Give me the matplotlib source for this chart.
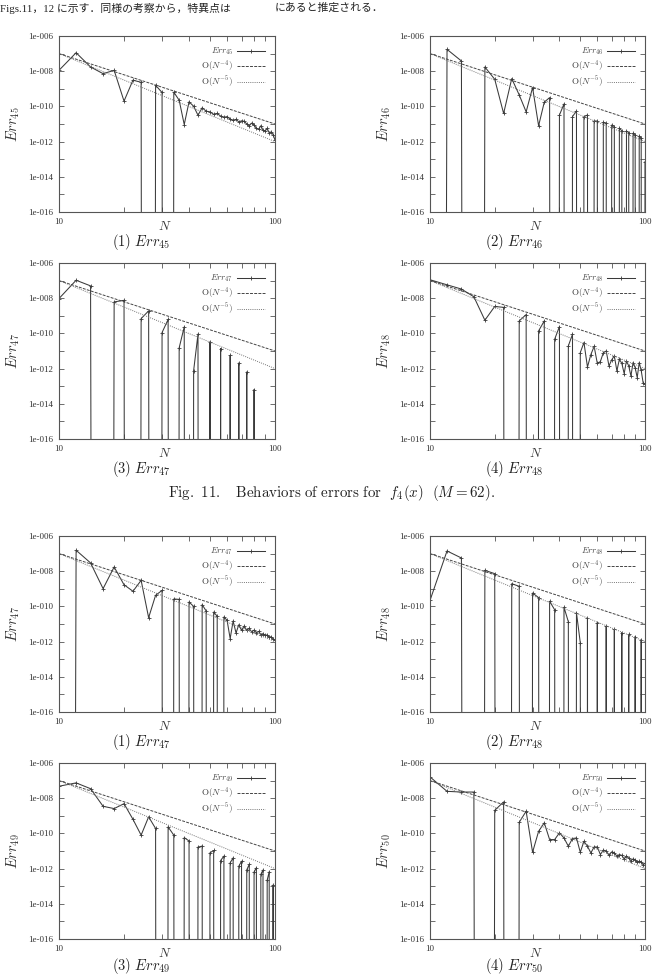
import matplotlib
matplotlib.use('Agg')
import matplotlib.pyplot as plt
from matplotlib.lines import Line2D

plt.rcParams['mathtext.fontset'] = 'cm'

# ---------------- data (exponents of the error) ----------
N = list(range(10, 101, 2))
Z = None  # exact zero (drawn as a drop to the bottom of the log axis)
ZERO_FLOOR = 1e-300

f11_err45 = [-7.95, -6.95, -7.76, -8.14, -7.95, -9.70, -8.51, -8.63, Z, -8.80,
             -9.21, Z, -9.19, -9.65, -11.03, -9.74, -9.99, -10.50, -10.08, -10.27,
             -10.31, -10.45, -10.40, -10.55, -10.62, -10.58, -10.72, -10.80, -10.74, -10.88,
             -10.82, -10.85, -11.00, -11.10, -10.95, -11.05, -11.25, -11.30, -11.10, -11.35,
             -11.40, -11.25, -11.50, -11.45, -11.60, -11.92]
f11_err46 = [Z, -6.76, -7.42, Z, -7.76, -8.46, -10.40, -8.42, -9.35, -10.31,
             -8.93, -11.10, -9.76, -9.50, Z, -10.49, -9.86, Z, -10.58, -10.26,
             Z, -10.58, -10.49, Z, -10.83, -10.83, Z, -10.90, -10.96, Z,
             -11.06, -11.15, Z, -11.24, -11.38, Z, -11.40, -11.49, Z, -11.53,
             -11.61, Z, -11.68, -11.81, Z, -13.14]
f11_err47 = [-8.02, -6.98, -7.30, Z, -8.21, -8.12, Z, -9.16, -8.72, Z,
             -9.95, -9.21, Z, -10.82, -9.63, Z, -12.12, -10.04, Z, Z,
             -10.48, Z, Z, -10.86, Z, Z, -11.25, Z, Z, -11.68,
             Z, Z, -12.19, Z, Z, -13.19, Z, Z, Z, Z,
             Z, Z, Z, Z, Z, Z]
f11_err48 = [-6.95, -7.24, -7.48, -7.92, -9.25, -8.47, -8.52, Z, -9.29, -8.93,
             Z, -9.86, -9.29, Z, -10.33, -9.61, Z, -10.71, -10.05, Z,
             -11.09, -10.52, -11.91, -11.20, -10.74, -11.70, -11.60, -11.10, -11.00, -11.85,
             -11.50, -11.28, -12.13, -11.47, -11.70, -12.28, -11.56, -11.85, -12.42, -11.66,
             -11.95, -12.51, -11.66, -12.10, -12.80, -12.89]

f12_err47 = [Z, -6.81, -7.53, -8.99, -7.76, -8.77, -9.14, -8.52, -10.64, -9.37,
             -9.09, Z, -9.58, -9.60, Z, -9.75, -10.00, Z, -9.90, -10.26,
             Z, -10.32, -10.56, Z, -10.60, -10.79, -11.83, -10.83, -11.51, -11.04,
             -11.36, -11.12, -11.35, -11.25, -11.45, -11.35, -11.50, -11.42, -11.60, -11.55,
             -11.65, -11.62, -11.75, -11.72, -11.85, -11.92]
f12_err48 = [-9.66, -6.85, -7.25, Z, -7.95, -8.14, Z, -8.71, -8.86, Z,
             -9.24, -9.50, Z, -9.71, -10.19, Z, -10.05, -10.87, Z, -10.36,
             -12.06, Z, -10.68, Z, Z, -10.93, Z, Z, -11.11, Z,
             Z, -11.30, Z, Z, -11.49, Z, Z, -11.59, Z, Z,
             -11.72, Z, Z, -11.91, Z, Z]
f12_err49 = [-7.32, -7.13, -7.46, -8.46, -8.59, -8.31, -9.20, -10.10, -9.06, -9.72,
             Z, -9.63, -10.10, Z, -10.24, -10.43, Z, -10.78, -10.72, Z,
             -11.10, -10.97, Z, -11.54, -11.29, Z, -11.67, -11.39, Z, -11.86,
             -11.58, Z, -12.07, -11.76, Z, -12.19, -11.95, Z, -12.33, -12.08,
             Z, -12.65, -12.18, Z, -12.93, Z]
f12_err50 = [-6.79, -7.61, -7.65, -7.65, Z, -8.69, -8.21, Z, -9.37, -8.74,
             -11.07, -9.88, -9.40, -10.35, -10.35, -9.97, -10.26, -10.73, -10.29, -10.26,
             -11.07, -10.45, -10.73, -11.11, -10.77, -10.77, -11.20, -10.95, -11.00, -11.25,
             -11.05, -11.10, -11.30, -11.20, -11.25, -11.45, -11.30, -11.40, -11.55, -11.45,
             -11.50, -11.65, -11.58, -11.62, -11.78, -11.70]

# reference slopes (end points)
ref_N = [10, 100]
ref4_vals = [1e-7, 1e-11]
ref5_vals = [1e-7, 1e-12]

subscripts = ['45', '46', '47', '48', '47', '48', '49', '50']
captions = ['(1)', '(2)', '(3)', '(4)', '(1)', '(2)', '(3)', '(4)']
series = [f11_err45, f11_err46, f11_err47, f11_err48,
          f12_err47, f12_err48, f12_err49, f12_err50]

yticks_exp = list(range(-16, -5))
xticks = [10, 20, 30, 40, 50, 60, 70, 80, 90, 100]

# ---------------- layout ----------------
W, H = 664, 974
fig = plt.figure(figsize=(W / 100, H / 100), dpi=100)
fig.patch.set_facecolor('white')

def rect(l, t, r, b):
    return [l / W, 1 - b / H, (r - l) / W, (b - t) / H]

boxes = [(59, 36, 275, 212), (430, 36, 645, 212),
         (59, 263, 275, 439), (430, 263, 645, 439),
         (59, 536, 275, 712), (430, 536, 645, 712),
         (59, 763, 275, 939), (430, 763, 645, 939)]
cap_y = [242, 242, 469, 469, 742, 742, 966, 966]
cap_x = [141, 514]

frame_col = '#555555'
line_col = '#3a3a3a'
tick_font = dict(family='Liberation Serif', size=6.5, color='#333333')

for i, (box, sub, cap, vals) in enumerate(zip(boxes, subscripts, captions, series)):
    ax = fig.add_axes(rect(*box))
    y = [ZERO_FLOOR if v is None else 10.0 ** v for v in vals]
    ax.plot(N, y, '-', color=line_col, lw=0.75, marker='+', ms=2.5, mew=0.6)
    ax.plot(ref_N, ref4_vals, color='#444444', lw=0.7, dashes=(3, 1.3))
    ax.plot(ref_N, ref5_vals, color='#777777', lw=0.7, dashes=(1, 1.2))
    ax.set_xscale('log')
    ax.set_yscale('log')
    ax.set_xlim(10, 100)
    ax.set_ylim(1e-16, 1e-6)
    ax.set_yticks([10.0 ** e for e in yticks_exp])
    ax.set_yticklabels(['1e-%03d' % (-e) if e % 2 == 0 else '' for e in yticks_exp],
                       fontdict=tick_font)
    ax.set_xticks(xticks)
    ax.set_xticklabels([str(t) if t in (10, 100) else '' for t in xticks], fontdict=tick_font)
    ax.minorticks_off()
    ax.tick_params(which='both', direction='in', top=True, right=True,
                   length=3.5, width=0.6, color=frame_col, pad=4)
    for s in ax.spines.values():
        s.set_color(frame_col)
        s.set_linewidth(0.8)
    ax.text(0.49, -0.083, r'$N$', transform=ax.transAxes, ha='center', va='center',
            fontsize=9.5, color='#333333')
    ax.text(-0.213, 0.5, r'$Err_{%s}$' % sub, transform=ax.transAxes, rotation=90,
            ha='center', va='center', fontsize=10.5, color='#333333')
    handles = [Line2D([], [], color=line_col, lw=0.75, marker='+', ms=2.5, mew=0.6),
               Line2D([], [], color='#444444', lw=0.7, dashes=(3, 1.3)),
               Line2D([], [], color='#777777', lw=0.7, dashes=(1, 1.2))]
    labels = [r'$Err_{%s}$' % sub, r'$\mathrm{O}(N^{-4})$', r'$\mathrm{O}(N^{-5})$']
    leg = ax.legend(handles, labels, loc='upper right', frameon=False, markerfirst=False,
                    fontsize=6.5, handlelength=3.1, handletextpad=0.4, labelspacing=0.12,
                    borderpad=0.2, borderaxespad=0.9)
    for t in leg.get_texts():
        t.set_color('#444444')
    fig.text(cap_x[i % 2] / W, 1 - cap_y[i] / H, r'$%s\ Err_{%s}$' % (cap, sub),
             ha='center', va='center', fontsize=10.5, color='#222222')

fig.text(168 / W, 1 - 493 / H,
         r'$\mathrm{Fig.\ 11.\quad Behaviors\ of\ errors\ for}\ \ f_4(x)\ \ (M=62).$',
         ha='left', va='center', fontsize=10.8, color='#222222')

jp = ['Liberation Serif', 'Noto Sans CJK JP', 'DejaVu Sans']
fig.text(0 / W, 1 - 8 / H, 'Figs.11，12 に示す．同様の考察から，特異点は',
         ha='left', va='center', fontsize=7.8, family=jp, color='#222222')
fig.text(275 / W, 1 - 8 / H, 'にあると推定される．',
         ha='left', va='center', fontsize=7.8, family=jp, color='#222222')

fig.savefig('out.png', dpi=100, facecolor='white')
